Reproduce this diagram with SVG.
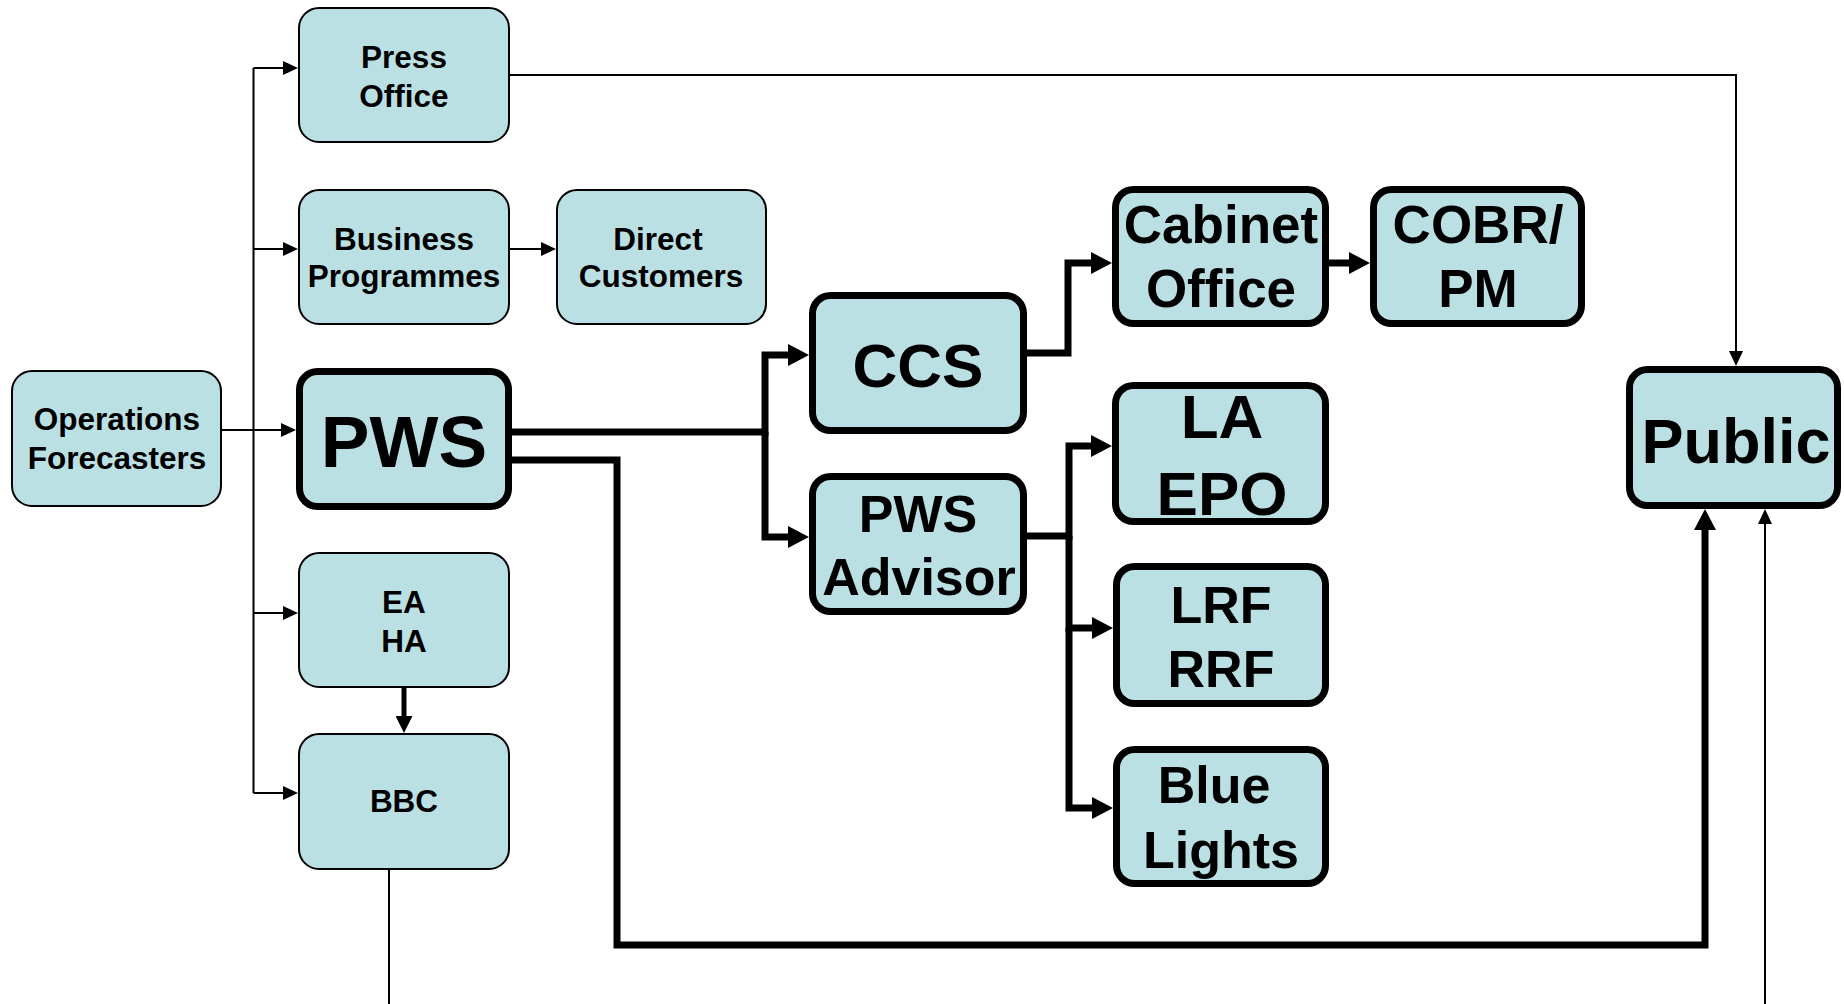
<svg xmlns="http://www.w3.org/2000/svg" width="1844" height="1004" viewBox="0 0 1844 1004">
<style>
.thin{fill:#BBE0E3;stroke:#000;stroke-width:2}
.thick{fill:#BBE0E3;stroke:#000;stroke-width:7}
text{font-family:"Liberation Sans",Arial,sans-serif;font-weight:bold;fill:#000;text-anchor:middle}
.s31{font-size:31.5px}
.s52{font-size:52px}
.s53{font-size:53px}
.s62{font-size:62px}
.s63{font-size:63px}
.s73{font-size:73px}
.c1{fill:none;stroke:#000;stroke-width:2}
.c7{fill:none;stroke:#000;stroke-width:7;stroke-linejoin:miter}
.c5{fill:none;stroke:#000;stroke-width:5}
</style>
<defs>
<marker id="at" markerUnits="userSpaceOnUse" viewBox="0 -7 15 14" markerWidth="15" markerHeight="14" refX="0" refY="0" orient="auto"><path d="M0,-7 L15,0 L0,7 z" fill="#000"/></marker>
<marker id="am" markerUnits="userSpaceOnUse" viewBox="0 -8.5 17 17" markerWidth="17" markerHeight="17" refX="0" refY="0" orient="auto"><path d="M0,-8.5 L17,0 L0,8.5 z" fill="#000"/></marker>
<marker id="ak" markerUnits="userSpaceOnUse" viewBox="0 -11 21 22" markerWidth="21" markerHeight="22" refX="0" refY="0" orient="auto"><path d="M0,-11 L21,0 L0,11 z" fill="#000"/></marker>
</defs>

<g id="connectors">
<path class="c1" d="M222,430 H281" marker-end="url(#at)"/>
<path class="c1" d="M253.5,68 V793"/>
<path class="c1" d="M253.5,68 H283" marker-end="url(#at)"/>
<path class="c1" d="M253.5,249 H283" marker-end="url(#at)"/>
<path class="c1" d="M253.5,613 H283" marker-end="url(#at)"/>
<path class="c1" d="M253.5,793 H283" marker-end="url(#at)"/>
<path class="c1" d="M510,249 H541" marker-end="url(#at)"/>
<path class="c1" d="M510,75 H1736 V351" marker-end="url(#at)"/>
<path class="c1" d="M389,870 V1040 H1765 V524" marker-end="url(#at)"/>
<path class="c5" d="M404,688 V716" marker-end="url(#am)"/>
<path class="c7" d="M512,432 H765 V355 H788" marker-end="url(#ak)"/>
<path class="c7" d="M765,432 V537 H788" marker-end="url(#ak)"/>
<path class="c7" d="M1027,353 H1068 V263 H1091" marker-end="url(#ak)"/>
<path class="c7" d="M1329,263 H1349" marker-end="url(#ak)"/>
<path class="c7" d="M1027,536 H1069 V446 H1091" marker-end="url(#ak)"/>
<path class="c7" d="M1069,536 V628 H1092" marker-end="url(#ak)"/>
<path class="c7" d="M1069,628 V808 H1092" marker-end="url(#ak)"/>
<path class="c7" d="M512,460 H617 V945 H1705 V530" marker-end="url(#ak)"/>
</g>

<g id="press-office">
<rect class="thin" x="299" y="8" width="210" height="134" rx="20"/>
<text class="s31" x="404" y="68">Press</text>
<text class="s31" x="404" y="107">Office</text>
</g>
<g id="business-programmes">
<rect class="thin" x="299" y="190" width="210" height="134" rx="20"/>
<text class="s31" x="404" y="250">Business</text>
<text class="s31" x="404" y="287">Programmes</text>
</g>
<g id="direct-customers">
<rect class="thin" x="557" y="190" width="209" height="134" rx="20"/>
<text class="s31" x="658" y="250">Direct</text>
<text class="s31" x="661" y="287">Customers</text>
</g>
<g id="operations-forecasters">
<rect class="thin" x="12" y="371" width="209" height="135" rx="20"/>
<text class="s31" x="117" y="430">Operations</text>
<text class="s31" x="117" y="469">Forecasters</text>
</g>
<g id="pws">
<rect class="thick" x="299.5" y="371.5" width="209" height="135" rx="18"/>
<text class="s73" x="404" y="467">PWS</text>
</g>
<g id="ea-ha">
<rect class="thin" x="299" y="553" width="210" height="134" rx="20"/>
<text class="s31" x="404" y="613">EA</text>
<text class="s31" x="404" y="652">HA</text>
</g>
<g id="bbc">
<rect class="thin" x="299" y="734" width="210" height="135" rx="20"/>
<text class="s31" x="404" y="812">BBC</text>
</g>
<g id="ccs">
<rect class="thick" x="812.5" y="295.5" width="211" height="135" rx="18"/>
<text class="s62" x="918" y="387">CCS</text>
</g>
<g id="pws-advisor">
<rect class="thick" x="812.5" y="476.5" width="211" height="135" rx="18"/>
<text class="s52" x="918" y="532">PWS</text>
<text class="s52" x="919" y="595">Advisor</text>
</g>
<g id="cabinet-office">
<rect class="thick" x="1115.5" y="189.5" width="210" height="134" rx="18"/>
<text class="s53" x="1221" y="243">Cabinet</text>
<text class="s53" x="1221" y="307">Office</text>
</g>
<g id="cobr-pm">
<rect class="thick" x="1373.5" y="189.5" width="208" height="134" rx="18"/>
<text class="s53" x="1478" y="243">COBR/</text>
<text class="s53" x="1478" y="307">PM</text>
</g>
<g id="la-epo">
<rect class="thick" x="1115.5" y="385.5" width="210" height="136" rx="18"/>
<text class="s62" x="1222" y="438">LA</text>
<text class="s62" x="1222" y="515">EPO</text>
</g>
<g id="lrf-rrf">
<rect class="thick" x="1116.5" y="566.5" width="209" height="137" rx="18"/>
<text class="s52" x="1221" y="623">LRF</text>
<text class="s52" x="1221" y="687">RRF</text>
</g>
<g id="blue-lights">
<rect class="thick" x="1116.5" y="749.5" width="209" height="134" rx="18"/>
<text class="s52" x="1214" y="803">Blue</text>
<text class="s52" x="1221" y="868">Lights</text>
</g>
<g id="public">
<rect class="thick" x="1629.5" y="369.5" width="208" height="136" rx="18"/>
<text class="s63" x="1736" y="463">Public</text>
</g>
</svg>
